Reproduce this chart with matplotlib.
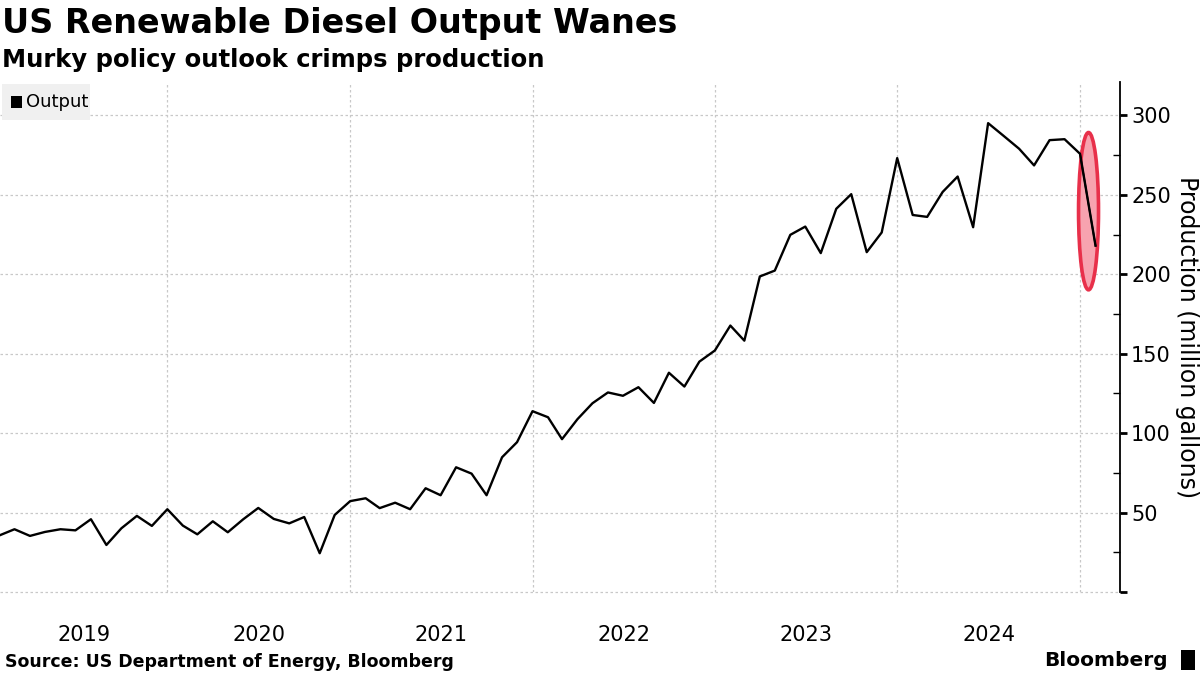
import matplotlib
matplotlib.use("Agg")
import matplotlib.pyplot as plt
import matplotlib.dates as mdates
from matplotlib.patches import Ellipse
import datetime as dt
import numpy as np

# ---- data ----
start_year, start_month = 2019, 2
output = [
    # 2019 Feb-Dec
    35.9, 39.5, 35.3, 37.8, 39.5, 38.8, 45.8, 29.6, 40.1, 47.9, 41.6,
    # 2020
    52.1, 41.8, 36.3, 44.5, 37.6, 45.8, 52.9, 46.0, 43.2, 47.2, 24.4, 48.5,
    # 2021
    57.2, 59.0, 52.8, 56.2, 52.1, 65.3, 60.9, 78.5, 74.5, 60.9, 84.8, 94.3,
    # 2022
    113.8, 110.0, 96.2, 108.8, 118.8, 125.6, 123.5, 128.9, 119.0, 138.0, 129.3, 145.0,
    # 2023
    152.0, 167.7, 158.2, 198.6, 202.3, 224.8, 230.0, 213.3, 241.2, 250.4, 213.9, 226.3,
    # 2024
    273.1, 237.3, 236.1, 251.8, 261.5, 229.6, 295.1, 287.1, 279.0, 268.5, 284.4, 285.0,
    # 2025
    275.8, 218.0,
]
year_labels = ["2019", "2020", "2021", "2022", "2023", "2024"]
y_ticks = [0, 50, 100, 150, 200, 250, 300]
y_tick_labels = ["", "50", "100", "150", "200", "250", "300"]

dates = []
y, m = start_year, start_month
for _ in output:
    dates.append(dt.date(y, m, 1))
    m += 1
    if m > 12:
        m = 1
        y += 1

# ---- figure ----
fig = plt.figure(figsize=(12, 6.75), dpi=100)
ax = fig.add_axes([0.0, 1 - 592 / 675, 1120 / 1200, (592 - 82) / 675])

ax.plot(dates, output, color="black", lw=1.7, zorder=3)

x_left = dt.date(2019, 1, 31)
ax.set_xlim(x_left, dt.date(2025, 3, 22))
ax.set_ylim(0, 321)

# highlight ellipse
cx = mdates.date2num(dt.date(2025, 1, 18))
ell = Ellipse((cx, 239.7), width=40, height=99, facecolor="#f7a3af",
              edgecolor="#e8304a", lw=2.6, alpha=1.0, zorder=2)
ax.add_patch(ell)
ax.plot(dates[-2:], output[-2:], color="black", lw=1.2, zorder=4)

# grid
year_starts = [dt.date(yy, 1, 1) for yy in range(2020, 2026)]
for d in year_starts:
    ax.axvline(d, color="#c8c8c8", lw=0.9, ls=(0, (2, 2)), zorder=0)
for v in y_ticks:
    ax.axhline(v, color="#c8c8c8", lw=0.9, ls=(0, (2, 2)), zorder=0, clip_on=False)

# spines
for s in ["left", "top", "bottom"]:
    ax.spines[s].set_visible(False)
ax.spines["right"].set_color("black")
ax.spines["right"].set_linewidth(1.3)

ax.yaxis.tick_right()
ax.set_yticks(y_ticks)
ax.set_yticklabels(y_tick_labels, fontsize=15, family="DejaVu Sans")
ax.set_yticks([25, 75, 125, 175, 225, 275], minor=True)
ax.tick_params(axis="y", which="major", direction="out", length=5, width=2, pad=3)
ax.tick_params(axis="y", which="minor", direction="in", length=5, width=1)

ax.set_xticks([])
for i, lab in enumerate(year_labels):
    a = dt.date(2019 + i, 1, 1)
    b = dt.date(2020 + i, 1, 1)
    a = max(a, x_left)
    mid = (mdates.date2num(a) + mdates.date2num(b)) / 2
    ax.text(mid, -27, lab, ha="center", va="center",
            fontsize=15, transform=ax.transData, clip_on=False)

ax.yaxis.set_label_position("right")
ax.set_ylabel("Production (million gallons)", fontsize=17, rotation=270,
              labelpad=20)

# legend box
fig.patches.append(plt.Rectangle((2 / 1200, 1 - 120 / 675), 88 / 1200, 36 / 675,
                                 transform=fig.transFigure, facecolor="#f0f0f0",
                                 edgecolor="none", zorder=5))
fig.patches.append(plt.Rectangle((11 / 1200, 1 - 108 / 675), 11 / 1200, 12 / 675,
                                 transform=fig.transFigure, facecolor="black",
                                 edgecolor="none", zorder=6))
fig.text(26 / 1200, 1 - 102 / 675, "Output", fontsize=13, va="center", ha="left", zorder=7)

# titles
fig.text(2 / 1200, 1 - 24 / 675, "US Renewable Diesel Output Wanes", fontsize=24,
         fontweight="bold", va="center", ha="left")
fig.text(2 / 1200, 1 - 60 / 675, "Murky policy outlook crimps production", fontsize=17.5,
         fontweight="bold", va="center", ha="left")

fig.text(5 / 1200, 1 - 662 / 675, "Source: US Department of Energy, Bloomberg",
         fontsize=12.5, fontweight="bold", va="center", ha="left")
fig.text(1168 / 1200, 1 - 661 / 675, "Bloomberg", fontsize=14.5, fontweight="bold",
         va="center", ha="right")
fig.patches.append(plt.Rectangle((1181 / 1200, 1 - 670 / 675), 14 / 1200, 20 / 675,
                                 transform=fig.transFigure, facecolor="black",
                                 edgecolor="none"))

fig.savefig("out.png", dpi=100)
